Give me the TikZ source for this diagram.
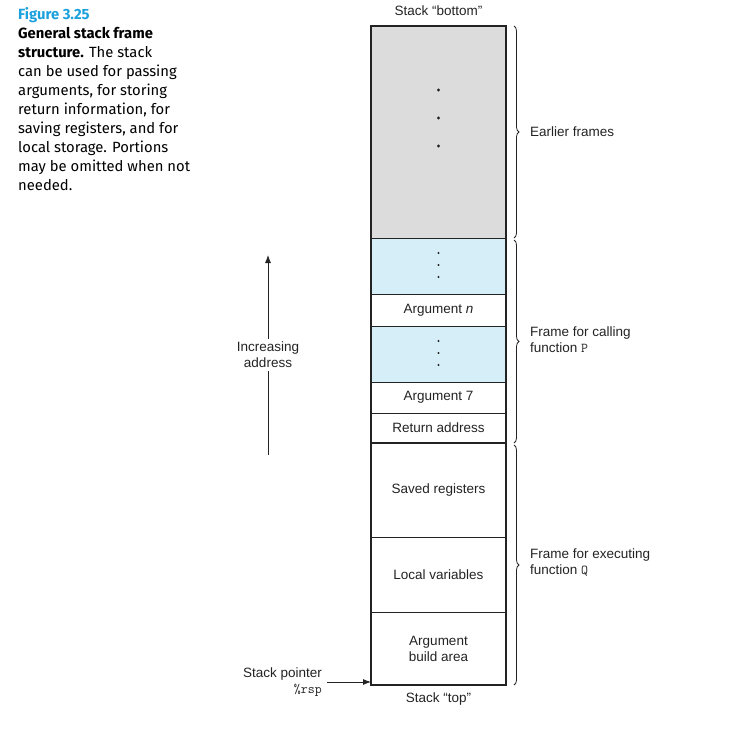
\documentclass[tikz,border=0pt]{standalone}
\usepackage{fontspec}
\setmainfont{Liberation Sans}
\newfontfamily\capfont{Fira Sans}
\usetikzlibrary{decorations.pathreplacing,arrows.meta}
\definecolor{capblue}{RGB}{26,160,220}
\definecolor{framegray}{RGB}{220,220,220}
\definecolor{lightblue}{RGB}{214,238,248}
\definecolor{ink}{RGB}{35,35,35}
\tikzset{
  cell/.style={draw=ink, line width=0.7pt, minimum width=135pt, inner sep=0pt, outer sep=0pt,
    font=\fontsize{13.5}{16}\selectfont, align=center, text=ink},
  lbl/.style={font=\fontsize{13.5}{16}\selectfont, align=left, text=ink, inner sep=0pt},
  brc/.style={draw=ink, line width=0.8pt, decorate, decoration={brace, amplitude=5pt}},
  dotmark/.style={fill=ink, draw=none},
  arr/.style={draw=ink, line width=0.8pt, -{Latex[length=8pt,width=6pt]}}
}
\begin{document}
\begin{tikzpicture}[x=1pt,y=-1pt]
\useasboundingbox (0,0) rectangle (756,732);
% caption
\node[anchor=north west, inner sep=0pt, align=left, font=\capfont\fontsize{14.8}{19}\selectfont]
  (cap) at (18,7) {\textcolor{capblue}{\bfseries Figure 3.25}\\
  {\bfseries General stack frame}\\
  {\bfseries structure.} The stack\\
  can be used for passing\\
  arguments, for storing\\
  return information, for\\
  saving registers, and for\\
  local storage. Portions\\
  may be omitted when not\\
  needed.};
% stack cells
\node[cell, fill=framegray, minimum height=212pt] (earlier) at (438.5,132) {};
\node[cell, fill=lightblue, minimum height=56pt] (dotsA) at (438.5,266) {};
\node[cell, minimum height=32pt] (argn) at (438.5,310) {Argument \textit{n}};
\node[cell, fill=lightblue, minimum height=56pt] (dotsB) at (438.5,354) {};
\node[cell, minimum height=31pt] (arg7) at (438.5,397.5) {Argument 7};
\node[cell, minimum height=30pt] (ret) at (438.5,428) {Return address};
\node[cell, minimum height=94pt] (saved) at (438.5,490) {Saved registers};
\node[cell, minimum height=75pt] (local) at (438.5,574.5) {Local variables};
\node[cell, minimum height=73pt] (build) at (438.5,648.5) {Argument\\build area};
\draw[ink, line width=1.4pt] (earlier.north west) rectangle (build.south east);
\draw[ink, line width=1.4pt] (ret.south west) -- (ret.south east);
% dots
\foreach \yy in {90,118,146} \fill[dotmark] (438.5,\yy) circle (1.7pt);
\foreach \yy in {253,265,277} \fill[dotmark] (438.5,\yy) circle (1.2pt);
\foreach \yy in {341,353,365} \fill[dotmark] (438.5,\yy) circle (1.2pt);
% top / bottom labels
\node[lbl] (bottom) at (438.5,11) {Stack ``bottom''};
\node[lbl] (top) at (438.5,699) {Stack ``top''};
% braces
\draw[brc] (514,26) -- (514,238);
\draw[brc] (514,240) -- (514,443);
\draw[brc] (514,445) -- (514,685);
\node[lbl, anchor=west] (lblE) at (530,132) {Earlier frames};
\node[lbl, anchor=west] (lblP) at (530,340) {Frame for calling\\function \texttt{P}};
\node[lbl, anchor=west] (lblQ) at (530,563) {Frame for executing\\function \texttt{Q}};
% increasing address arrow
\coordinate (abot) at (268,455);
\coordinate (atop) at (268,255);
\node[lbl, align=center, inner sep=3pt] (incr) at (268,355) {Increasing\\address};
\draw[ink, line width=0.8pt] (abot) -- (incr.south);
\draw[arr] (incr.north) -- (atop);
% stack pointer
\node[lbl, align=right, anchor=east] (sp) at (322,682) {Stack pointer\\\texttt{\%rsp}};
\draw[arr] ([xshift=5pt]sp.east) -- (sp.east -| build.west);
\end{tikzpicture}
\end{document}
